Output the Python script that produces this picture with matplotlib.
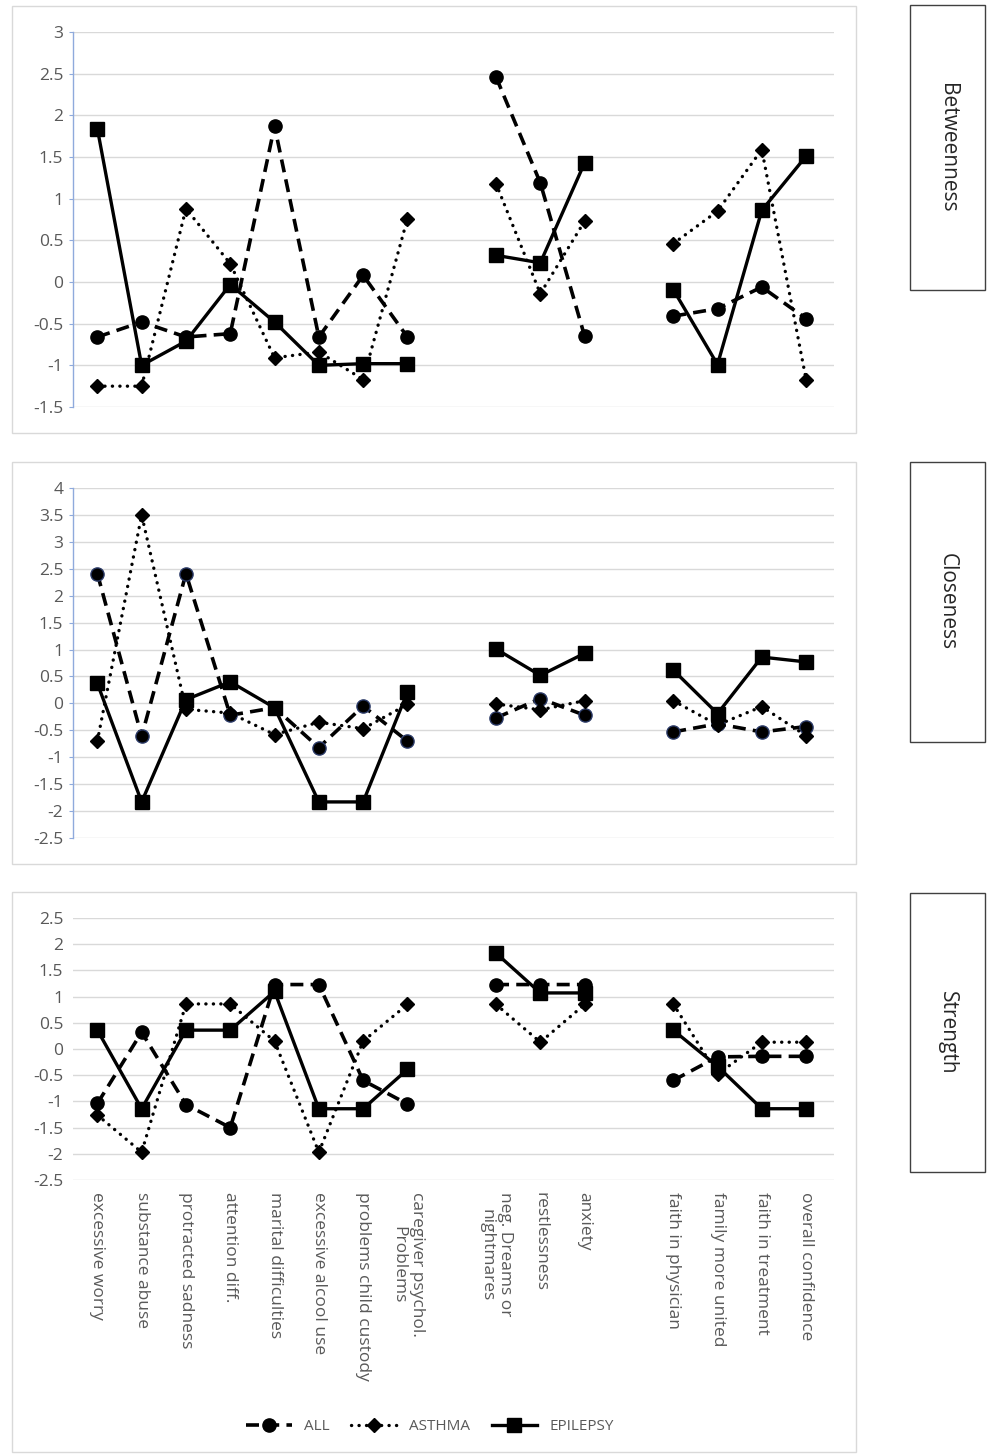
import numpy as np
import matplotlib
matplotlib.use("Agg")
import matplotlib.pyplot as plt
from matplotlib.patches import Rectangle
from matplotlib.lines import Line2D

# ---------------- data ----------------
categories = ["excessive worry", "substance abuse", "protracted sadness", "attention diff.",
              "marital difficulties", "excessive alcool use", "problems child custody",
              "caregiver psychol.\nProblems",
              "neg. Dreams or\nnightmares", "restlessness", "anxiety",
              "faith in physician", "family more united", "faith in treatment", "overall confidence"]
group_sizes = [8, 3, 4]

metrics = ["Betweenness", "Closeness", "Strength"]

betw_all      = [-0.66, -0.48, -0.66, -0.62, 1.87, -0.66, 0.08, -0.66,  2.46, 1.19, -0.65,  -0.41, -0.32, -0.06, -0.44]
betw_asthma   = [-1.25, -1.25, 0.88, 0.22, -0.91, -0.84, -1.17, 0.76,  1.18, -0.14, 0.73,  0.46, 0.85, 1.59, -1.17]
betw_epilepsy = [1.84, -1.0, -0.71, -0.03, -0.48, -1.0, -0.98, -0.98,  0.32, 0.23, 1.43,  -0.09, -0.99, 0.86, 1.51]

clos_all      = [2.41, -0.61, 2.41, -0.22, -0.08, -0.82, -0.05, -0.70,  -0.27, 0.09, -0.22,  -0.53, -0.38, -0.53, -0.43]
clos_asthma   = [-0.70, 3.50, -0.11, -0.18, -0.58, -0.35, -0.47, -0.02,  -0.01, -0.12, 0.05,  0.05, -0.40, -0.06, -0.60]
clos_epilepsy = [0.37, -1.83, 0.07, 0.40, -0.08, -1.83, -1.83, 0.21,  1.01, 0.52, 0.93,  0.62, -0.19, 0.86, 0.77]

str_all      = [-1.04, 0.32, -1.06, -1.50, 1.23, 1.23, -0.60, -1.05,  1.23, 1.23, 1.23,  -0.60, -0.15, -0.14, -0.14]
str_asthma   = [-1.26, -1.97, 0.86, 0.86, 0.15, -1.97, 0.15, 0.85,  0.85, 0.13, 0.85,  0.86, -0.48, 0.13, 0.13]
str_epilepsy = [0.36, -1.14, 0.36, 0.36, 1.10, -1.14, -1.14, -0.39,  1.83, 1.07, 1.07,  0.36, -0.33, -1.14, -1.14]

series_names = ["ALL", "ASTHMA", "EPILEPSY"]
panel_data = [
    [betw_all, betw_asthma, betw_epilepsy],
    [clos_all, clos_asthma, clos_epilepsy],
    [str_all, str_asthma, str_epilepsy],
]
y_limits = [(-1.5, 3.0), (-2.5, 4.0), (-2.5, 2.5)]

# ---------------- helpers ----------------
# slot positions: groups separated by one empty slot
positions = []
slot = 0
for gi, n in enumerate(group_sizes):
    for k in range(n):
        positions.append(slot)
        slot += 1
    slot += 1  # gap
positions = np.array(positions)
n_slots = positions[-1] + 1


def with_gaps(vals):
    """Spread values over slots, NaN in gap slots so lines break."""
    out = np.full(n_slots, np.nan)
    out[positions] = vals
    return out


W, H = 990, 1456
fig = plt.figure(figsize=(W / 100, H / 100), dpi=100)
fig.patch.set_facecolor("white")

tick_grey = "#595959"
grid_grey = "#d9d9d9"

# axes rectangles in pixels: (left, top, right, bottom)
ax_px = [(73, 32, 834, 407), (73, 488, 834, 838), (73, 918, 834, 1180)]
frame_px = [(12, 6, 856, 433), (12, 462, 856, 864), (12, 892, 856, 1452)]
box_px = [(910, 5, 985, 290), (910, 462, 985, 742), (910, 893, 985, 1172)]

styles = {
    "ALL": dict(color="black", lw=2.6, ls=(0, (3.6, 2.0)), marker="o", ms=9.5,
                dash_capstyle="butt"),
    "ASTHMA": dict(color="black", lw=2.4, ls=(0, (0.05, 2.2)), marker="D", ms=7.5,
                   dash_capstyle="round"),
    "EPILEPSY": dict(color="black", lw=2.4, ls="-", marker="s", ms=10),
}

x_all = np.arange(n_slots)

for pi in range(3):
    # frame rectangle
    l, t, r, b = frame_px[pi]
    fig.patches.append(Rectangle((l / W, 1 - b / H), (r - l) / W, (b - t) / H,
                                 transform=fig.transFigure, fill=False,
                                 edgecolor="#d9d9d9", lw=1.0, zorder=0))
    # label box
    l, t, r, b = box_px[pi]
    fig.patches.append(Rectangle((l / W, 1 - b / H), (r - l) / W, (b - t) / H,
                                 transform=fig.transFigure, fill=False,
                                 edgecolor="#404040", lw=1.0))
    fig.text((l + r) / 2 / W, 1 - (t + b) / 2 / H, metrics[pi], rotation=-90,
             ha="center", va="center", fontsize=15, color="#262626",
             family="Open Sans")

    l, t, r, b = ax_px[pi]
    ax = fig.add_axes([l / W, 1 - b / H, (r - l) / W, (b - t) / H])
    ax.set_facecolor("none")
    ymin, ymax = y_limits[pi]
    ax.set_ylim(ymin, ymax)
    ax.set_xlim(-0.55, n_slots - 1 + 0.63)
    yt = np.arange(ymin, ymax + 0.01, 0.5)
    ax.set_yticks(yt)
    ax.set_yticklabels([f"{v:g}" for v in yt], fontsize=12.5, color=tick_grey,
                       family="Open Sans")
    ax.yaxis.grid(True, color=grid_grey, lw=1.0)
    ax.set_axisbelow(True)
    for s in ["top", "right", "bottom"]:
        ax.spines[s].set_visible(False)
    if pi < 2:
        ax.spines["left"].set_color("#8faadc")
        ax.spines["left"].set_linewidth(1.0)
        ax.tick_params(axis="y", length=3, color="#8faadc", pad=4)
    else:
        ax.spines["left"].set_visible(False)
        ax.tick_params(axis="y", length=0, pad=7)

    for si, name in enumerate(series_names):
        st = dict(styles[name])
        mec = "black"
        if pi == 1 and name == "ALL":
            mec = "#2b3a67"
        ax.plot(x_all, with_gaps(panel_data[pi][si]), mfc="black", mec=mec,
                mew=1.0, zorder=3 + si, clip_on=False, **st)

    if pi == 2:
        ax.set_xticks(positions)
        ax.set_xticklabels(categories, rotation=-90, ha="center", va="top",
                           multialignment="center", fontsize=12.5,
                           color=tick_grey, family="Open Sans")
        ax.tick_params(axis="x", length=0, pad=9)
    else:
        ax.set_xticks([])

# legend
handles = []
for name in series_names:
    st = dict(styles[name])
    handles.append(Line2D([0], [0], mfc="black", mec="black", **st))
fig.legend(handles, series_names, loc="center", bbox_to_anchor=(430 / W, 1 - 1427 / H),
           ncol=3, frameon=False, handlelength=3.0, columnspacing=1.4,
           handletextpad=0.8, prop=dict(family="Open Sans", size=11),
           labelcolor=tick_grey)

fig.savefig("out.png", dpi=100, facecolor="white")
